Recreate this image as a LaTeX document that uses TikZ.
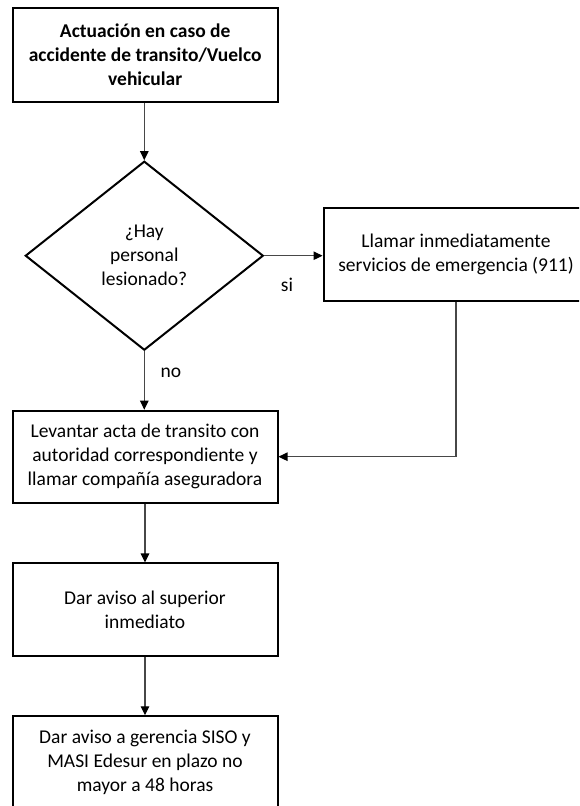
\documentclass[tikz,border=0pt]{standalone}
\usepackage{fontspec}
\setmainfont{Carlito}
\usetikzlibrary{arrows.meta,shapes.geometric}
\begin{document}
\begin{tikzpicture}[x=1pt,y=-1pt,
  txt/.style={font={\fontsize{19.5}{24}\selectfont}, align=center},
  procbox/.style={txt, draw=black, line width=2pt, rectangle, inner sep=0pt,
    minimum width=265pt, minimum height=92.5pt},
  decision/.style={txt, draw=black, line width=2pt, diamond, inner sep=0pt,
    minimum width=238pt, minimum height=189pt},
  conn/.style={draw=black!72, line width=1.1pt,
    -{Triangle[length=9pt,width=8.5pt,color=black]}},
  lbl/.style={font={\fontsize{19.5}{24}\selectfont}}
]
\useasboundingbox (0,0) rectangle (579,806);
\clip (0,0) rectangle (579,806);

\node[procbox, minimum height=93.4pt] (start) at (145.2,55)
  {\bfseries Actuación en caso de\\\bfseries accidente de transito/Vuelco\\\bfseries vehicular};
\node[decision] (dec) at (144.3,255.7) {¿Hay\\personal\\lesionado?};
\node[procbox] (call) at (456,254.5)
  {Llamar inmediatamente\\servicios de emergencia (911)};
\node[procbox, minimum height=92pt] (acta) at (145,456.7)
  {Levantar acta de transito con\\autoridad correspondiente y\\llamar compañía aseguradora};
\node[procbox] (sup) at (145,609.7)
  {Dar aviso al superior\\inmediato};
\node[procbox] (ger) at (145,762.5)
  {Dar aviso a gerencia SISO y\\MASI Edesur en plazo no\\mayor a 48 horas};

\draw[conn] (start.south -| dec.north) -- (dec.north);
\draw[conn] (dec.east) -- (dec.east -| call.west);
\draw[conn] (dec.south) -- (dec.south |- acta.north);
\draw[conn] (call.south) |- (acta.east);
\draw[conn] (acta.south -| sup.north) -- (sup.north);
\draw[conn] (sup.south) -- (ger.north);

\node[lbl] (si) at (287,285) {si};
\node[lbl] (no) at (171,373) {no};
\end{tikzpicture}
\end{document}
